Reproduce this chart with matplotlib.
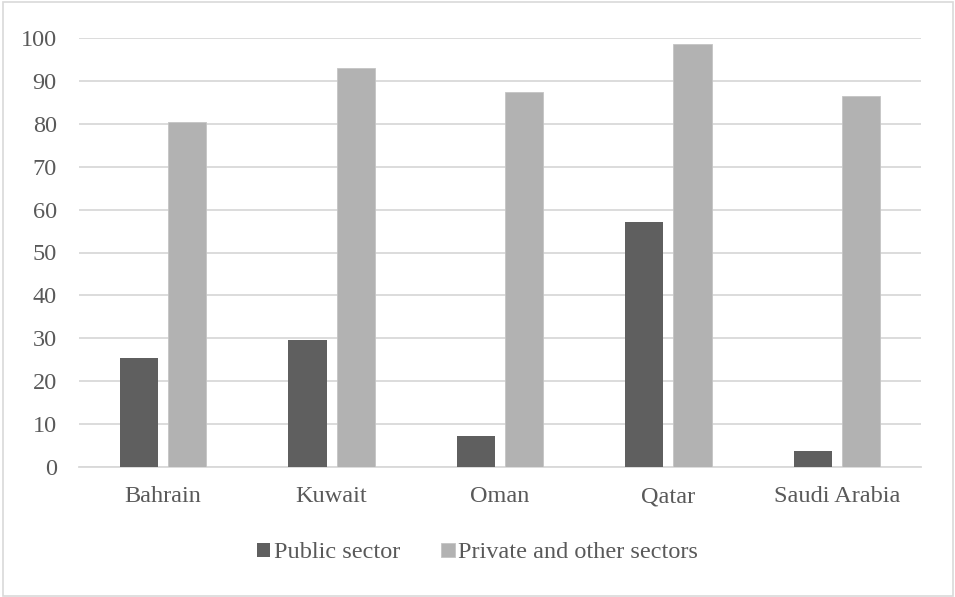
import numpy as np
import matplotlib.pyplot as plt
from matplotlib.patches import Rectangle

plt.rcParams['font.family'] = ['Liberation Serif', 'DejaVu Serif']

countries = ['Bahrain', 'Kuwait', 'Oman', 'Qatar', 'Saudi Arabia']
public_sector = [25.3, 29.6, 7.2, 57.0, 3.7]
private_other = [80.5, 93.1, 87.4, 98.6, 86.4]

text_color = '#595959'

fig = plt.figure(figsize=(9.55, 5.97), dpi=100)
ax = fig.add_axes([79 / 955, 1 - 467 / 597, 842 / 955, 429 / 597])

x = np.arange(len(countries))
w = 0.226
off = 0.143
ax.bar(x - off, public_sector, w, color='#5f5f5f', label='Public sector', zorder=3)
ax.bar(x + off, private_other, w, color='#b2b2b2', edgecolor='#c4c4c4', linewidth=0.6,
       label='Private and other sectors', zorder=3)

ax.set_xlim(-0.5, len(countries) - 0.5)
ax.set_ylim(0, 100)
ax.set_yticks(range(0, 101, 10))
ax.set_xticks(x)
ax.set_xticklabels(countries)
ax.yaxis.grid(True, color='#d9d9d9', linewidth=1.3, zorder=0)
ax.tick_params(axis='both', length=0, labelsize=17.5, colors=text_color)
ax.tick_params(axis='x', pad=14)
ax.tick_params(axis='y', pad=16)
for side in ['top', 'right', 'left']:
    ax.spines[side].set_visible(False)
ax.spines['bottom'].set_color('#d9d9d9')
ax.spines['bottom'].set_linewidth(1.3)

leg = fig.legend(loc='center', bbox_to_anchor=(0.5, 1 - 553 / 597), ncol=2, frameon=False,
                 fontsize=17.5, handlelength=0.55, handleheight=0.55, handletextpad=0.15,
                 columnspacing=1.7)
for t in leg.get_texts():
    t.set_color(text_color)

# light frame around the whole chart
fig.patches.append(Rectangle((3 / 955, 1 / 597), 950 / 955, 594 / 597, transform=fig.transFigure,
                             fill=False, edgecolor='#d9d9d9', linewidth=1.2))

fig.savefig('out.png', dpi=100)
